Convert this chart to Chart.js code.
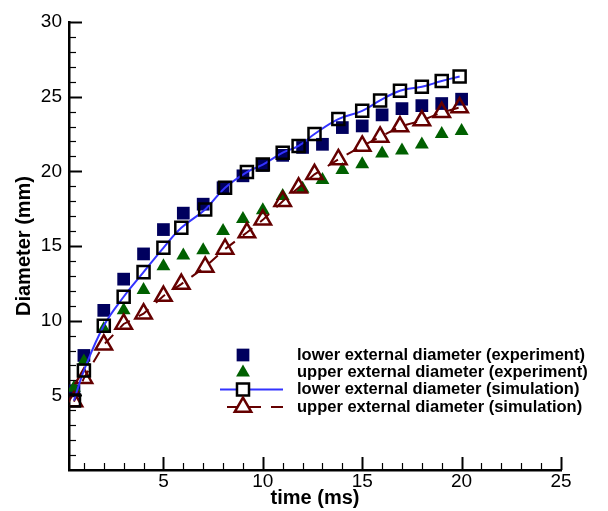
<!DOCTYPE html>
<html>
<head>
<meta charset="utf-8">
<script src="https://cdn.jsdelivr.net/npm/chart.js@4/dist/chart.umd.min.js"></script>
<style>
html,body{margin:0;padding:0;background:#fff;}
#wrap{width:608px;height:511px;position:relative;}
</style>
</head>
<body>
<div id="wrap"><canvas id="c" width="608" height="511"></canvas></div>
<script>
// ---- data ----
const simTime = [0.5,1,2,3,4,5,5.9,7.1,8.1,9.2,10,11,11.8,12.6,13.8,15,15.9,16.9,18,19,19.9];
const lowerSim = [4.65,6.66,9.66,11.6,13.25,14.88,16.22,17.45,18.9,19.95,20.45,21.25,21.7,22.5,23.5,24.05,24.75,25.4,25.66,26.05,26.35];
const upperSim = [4.58,6.15,8.39,9.78,10.47,11.65,12.45,13.6,14.8,15.9,16.75,18.0,18.9,19.8,20.8,21.7,22.3,23.0,23.4,23.95,24.27];
const expTime = [0.5,1,2,3,4,5,6,7,8,9,10,11,12,13,14,15,16,17,18,19,20];
const lowerExp = [5.3,7.67,10.69,12.78,14.47,16.1,17.2,17.8,18.9,19.7,20.4,21.07,21.6,21.81,22.93,23.04,23.78,24.2,24.4,24.54,24.83];
const upperExp = [5.5,7.27,9.44,10.69,12.05,13.64,14.36,14.72,16.0,16.8,17.4,18.34,18.84,19.42,20.09,20.47,21.2,21.4,21.8,22.5,22.7];
const seriesLabels = [
  'lower external diameter (experiment)',
  'upper external diameter (experiment)',
  'lower external diameter (simulation)',
  'upper external diameter (simulation)'
];
const xTickValues = [5,10,15,20,25];
const yTickValues = [5,10,15,20,25,30];
const xTitle = 'time (ms)';
const yTitle = 'Diameter (mm)';

const pts = (xs, ys) => xs.map((x, i) => ({x: x, y: ys[i]}));
const FONT = "'Liberation Sans', Arial, Helvetica, sans-serif";

const NAVY = '#00005e', GREEN = '#006000', BLUE = '#3333ff', DRED = '#650000';

// inward ticks drawn with scale pixel mapping
const innerTicks = {
  id: 'innerTicks',
  afterDatasetsDraw(chart) {
    const {ctx, scales: {x, y}, chartArea: a} = chart;
    ctx.save();
    ctx.strokeStyle = '#000';
    for (let v = 1; v <= 25; v++) {
      const px = Math.round(x.getPixelForValue(v)) + 0.5;
      const major = v % 5 === 0;
      ctx.lineWidth = major ? 2 : 1.2;
      ctx.beginPath();
      ctx.moveTo(px, a.bottom);
      ctx.lineTo(px, a.bottom - (major ? 13 : 7));
      ctx.stroke();
    }
    for (let v = 1; v <= 30; v++) {
      const py = Math.round(y.getPixelForValue(v)) + 0.5;
      const major = v % 5 === 0;
      ctx.lineWidth = major ? 2 : 1.2;
      ctx.beginPath();
      ctx.moveTo(a.left, py);
      ctx.lineTo(a.left + (major ? 13 : 7), py);
      ctx.stroke();
    }
    ctx.restore();
  }
};

// legend drawn from dataset styles
const customLegend = {
  id: 'customLegend',
  afterDraw(chart) {
    const ctx = chart.ctx;
    const rows = [355, 372.5, 389.5, 407];
    const mx = 243, textX = 297;
    ctx.save();
    chart.data.datasets.forEach((ds, i) => {
      const yy = rows[i];
      if (ds.showLine) {
        ctx.save();
        ctx.strokeStyle = ds.borderColor;
        ctx.lineWidth = ds.borderWidth;
        ctx.setLineDash(ds.borderDash || []);
        ctx.beginPath();
        const x0 = ds.borderDash ? 227 : 220;
        ctx.moveTo(x0, yy);
        ctx.lineTo(283, yy);
        ctx.stroke();
        ctx.restore();
      }
      const style = {
        pointStyle: ds.pointStyle,
        rotation: 0,
        radius: ds.pointRadius,
        borderWidth: ds.pointBorderWidth
      };
      ctx.save();
      ctx.fillStyle = ds.showLine ? '#fff' : ds.pointBackgroundColor;
      ctx.strokeStyle = ds.pointBorderColor;
      ctx.lineWidth = ds.pointBorderWidth;
      Chart.helpers.drawPoint(ctx, style, mx, yy);
      ctx.restore();
      ctx.fillStyle = '#000';
      ctx.font = "bold 16.5px " + FONT;
      ctx.textBaseline = 'middle';
      ctx.textAlign = 'left';
      ctx.fillText(ds.label, textX, yy);
    });
    ctx.restore();
  }
};

new Chart(document.getElementById('c'), {
  type: 'scatter',
  data: {
    datasets: [
      {
        label: seriesLabels[0],
        data: pts(expTime, lowerExp),
        showLine: false,
        pointStyle: 'rect',
        pointRadius: 9,
        pointBackgroundColor: NAVY,
        pointBorderColor: NAVY,
        pointBorderWidth: 0,
        order: 3
      },
      {
        label: seriesLabels[1],
        data: pts(expTime, upperExp),
        showLine: false,
        pointStyle: 'triangle',
        pointRadius: 8,
        pointBackgroundColor: GREEN,
        pointBorderColor: GREEN,
        pointBorderWidth: 0,
        order: 2
      },
      {
        label: seriesLabels[2],
        data: pts(simTime, lowerSim),
        showLine: true,
        borderColor: BLUE,
        borderWidth: 2,
        tension: 0.4,
        pointStyle: 'rect',
        pointRadius: 8.5,
        pointBackgroundColor: 'rgba(0,0,0,0)',
        pointBorderColor: '#000',
        pointBorderWidth: 2.5,
        order: 0
      },
      {
        label: seriesLabels[3],
        data: pts(simTime, upperSim),
        showLine: true,
        borderColor: DRED,
        borderWidth: 2,
        borderDash: [12, 10],
        tension: 0,
        pointStyle: 'triangle',
        pointRadius: 9.5,
        pointBackgroundColor: 'rgba(0,0,0,0)',
        pointBorderColor: DRED,
        pointBorderWidth: 2.5,
        order: 1
      }
    ]
  },
  options: {
    responsive: false,
    animation: false,
    events: [],
    layout: {padding: {left: 0, right: 47, top: 22, bottom: 0}},
    plugins: {legend: {display: false}, tooltip: {enabled: false}},
    scales: {
      x: {
        type: 'linear',
        min: 0.25,
        max: 25,
        afterFit: s => { s.height = 41; },
        afterBuildTicks: s => { s.ticks = xTickValues.map(v => ({value: v})); },
        grid: {display: false, drawTicks: false},
        border: {display: true, color: '#000', width: 2.5},
        ticks: {color: '#000', padding: 0, font: {family: FONT, size: 19}, maxRotation: 0},
        title: {display: true, text: xTitle, color: '#000', padding: {top: 0, bottom: 1},
                font: {family: FONT, size: 20, weight: 'bold'}}
      },
      y: {
        type: 'linear',
        min: 0,
        max: 30,
        afterFit: s => { s.width = 69; },
        afterBuildTicks: s => { s.ticks = yTickValues.map(v => ({value: v})); },
        grid: {display: false, drawTicks: false},
        border: {display: true, color: '#000', width: 2.5},
        ticks: {color: '#000', padding: 7, font: {family: FONT, size: 19}},
        title: {display: true, text: yTitle, color: '#000', padding: {top: 12, bottom: 0},
                font: {family: FONT, size: 20, weight: 'bold'}}
      }
    }
  },
  plugins: [innerTicks, customLegend]
});
</script>
</body>
</html>
